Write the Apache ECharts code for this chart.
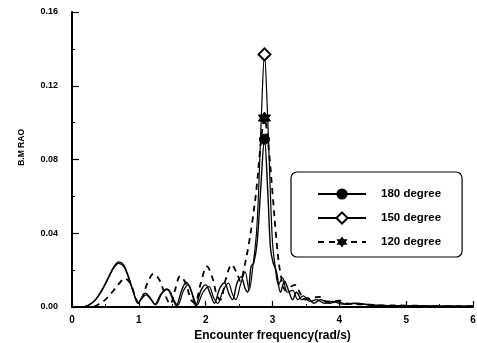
<!DOCTYPE html>
<html>
<head>
<meta charset="utf-8">
<script src="https://cdn.jsdelivr.net/npm/echarts@6/dist/echarts.min.js"></script>
<style>
  html, body { margin: 0; padding: 0; background: #fff; }
  #chart { width: 477px; height: 343px; }
</style>
</head>
<body>
<div id="chart"></div>
<script>
// Bending moment RAO versus encounter frequency for three headings.
const freq180 = [0, 0.15, 0.25, 0.35, 0.45, 0.55, 0.63, 0.7, 0.77, 0.84, 0.92, 0.99, 1.04, 1.1, 1.17, 1.24, 1.33, 1.42, 1.5, 1.56, 1.64, 1.71, 1.79, 1.85, 1.93, 2.0, 2.07, 2.13, 2.21, 2.28, 2.35, 2.4, 2.47, 2.53, 2.59, 2.63, 2.68, 2.72, 2.77, 2.82, 2.88, 2.93, 2.97, 3.01, 3.06, 3.12, 3.18, 3.24, 3.3, 3.36, 3.44, 3.52, 3.62, 3.72, 3.85, 3.97, 4.1, 4.25, 4.5, 5.0, 5.5, 6.0];
const rao180 = [0, 0, 0.001, 0.004, 0.0095, 0.0165, 0.022, 0.0245, 0.023, 0.017, 0.008, 0.002, 0.005, 0.0075, 0.005, 0.0015, 0.007, 0.0098, 0.005, 0.0008, 0.009, 0.0135, 0.008, 0.0008, 0.009, 0.012, 0.007, 0.002, 0.010, 0.013, 0.007, 0.004, 0.013, 0.0165, 0.010, 0.008, 0.022, 0.024, 0.035, 0.062, 0.091, 0.062, 0.032, 0.024, 0.019, 0.008, 0.014, 0.009, 0.004, 0.008, 0.004, 0.005, 0.002, 0.004, 0.002, 0.003, 0.0015, 0.002, 0.001, 0.0007, 0.0005, 0.0004];

const freq150 = [0, 0.15, 0.25, 0.35, 0.45, 0.55, 0.63, 0.7, 0.77, 0.84, 0.92, 0.99, 1.05, 1.11, 1.18, 1.25, 1.35, 1.44, 1.52, 1.58, 1.67, 1.74, 1.81, 1.87, 1.96, 2.05, 2.12, 2.18, 2.26, 2.34, 2.4, 2.45, 2.52, 2.59, 2.65, 2.7, 2.76, 2.8, 2.84, 2.88, 2.92, 2.96, 3.0, 3.04, 3.09, 3.15, 3.22, 3.3, 3.38, 3.46, 3.56, 3.66, 3.78, 3.9, 4.05, 4.2, 4.5, 5.0, 5.5, 6.0];
const rao150 = [0, 0, 0.001, 0.0038, 0.009, 0.016, 0.0215, 0.0237, 0.0222, 0.0165, 0.0078, 0.002, 0.0048, 0.0066, 0.004, 0.0012, 0.0075, 0.0095, 0.004, 0.001, 0.009, 0.012, 0.006, 0.001, 0.008, 0.011, 0.005, 0.002, 0.009, 0.013, 0.007, 0.004, 0.012, 0.019, 0.009, 0.020, 0.040, 0.070, 0.110, 0.137, 0.110, 0.070, 0.035, 0.022, 0.012, 0.016, 0.008, 0.009, 0.004, 0.006, 0.003, 0.004, 0.002, 0.003, 0.0015, 0.002, 0.001, 0.0007, 0.0005, 0.0004];

const freq120 = [0, 0.3, 0.4, 0.5, 0.6, 0.7, 0.79, 0.87, 0.94, 1.0, 1.06, 1.13, 1.22, 1.31, 1.4, 1.47, 1.54, 1.62, 1.7, 1.78, 1.84, 1.92, 2.02, 2.1, 2.17, 2.22, 2.3, 2.39, 2.47, 2.52, 2.58, 2.64, 2.7, 2.76, 2.82, 2.88, 2.94, 3.0, 3.06, 3.12, 3.2, 3.27, 3.34, 3.42, 3.5, 3.6, 3.7, 3.8, 3.9, 4.0, 4.1, 4.3, 4.6, 5.0, 5.5, 6.0];
const rao120 = [0, 0, 0.0015, 0.004, 0.008, 0.0125, 0.0155, 0.013, 0.0065, 0.002, 0.006, 0.013, 0.018, 0.0145, 0.006, 0.0015, 0.009, 0.0168, 0.013, 0.004, 0.002, 0.012, 0.022, 0.016, 0.006, 0.004, 0.015, 0.023, 0.018, 0.014, 0.022, 0.033, 0.047, 0.064, 0.087, 0.1025, 0.087, 0.062, 0.036, 0.018, 0.009, 0.011, 0.012, 0.007, 0.004, 0.005, 0.0055, 0.003, 0.003, 0.0035, 0.002, 0.0015, 0.001, 0.0008, 0.0005, 0.0004];

const seriesNames = ['180 degree', '150 degree', '120 degree'];
const xTicks = [0, 1, 2, 3, 4, 5, 6];
const yTicks = [0, 0.04, 0.08, 0.12, 0.16];

// six-pointed star used as the 120 degree marker
const starPath = 'path://M0,-10L2.9,-5L8.66,-5L5.8,0L8.66,5L2.9,5L0,10L-2.9,5L-8.66,5L-5.8,0L-8.66,-5L-2.9,-5Z';

// Only the resonance peak of each curve carries a marker.
function buildData(freqs, vals) {
  let peak = 0;
  vals.forEach((v, i) => { if (v > vals[peak]) peak = i; });
  return freqs.map((f, i) => i === peak
    ? { value: [f, vals[i]] }
    : { value: [f, vals[i]], symbol: 'none' });
}

const chart = echarts.init(document.getElementById('chart'), null, { renderer: 'canvas' });

const fontFamily = '"Liberation Sans", Arial, sans-serif';
const axisFont = { fontFamily: fontFamily, fontWeight: 'bold', color: '#000' };

chart.setOption({
  animation: false,
  backgroundColor: '#fff',
  grid: { left: 72, right: 4, top: 12, bottom: 36, containLabel: false, outerBoundsMode: 'none' },
  xAxis: {
    type: 'value',
    min: xTicks[0], max: xTicks[xTicks.length - 1], interval: 1,
    name: 'Encounter frequency(rad/s)',
    nameLocation: 'middle', nameGap: 18,
    nameTextStyle: Object.assign({ fontSize: 12 }, axisFont),
    axisLine: { lineStyle: { color: '#000', width: 2 } },
    axisTick: { inside: true, length: 6, lineStyle: { color: '#000', width: 1.2 } },
    minorTick: { show: true, splitNumber: 2, length: 3, lineStyle: { color: '#000' } },
    splitLine: { show: false },
    axisLabel: Object.assign({ fontSize: 10, margin: 8 }, axisFont)
  },
  yAxis: {
    type: 'value',
    min: yTicks[0], max: yTicks[yTicks.length - 1], interval: 0.04,
    axisLine: { show: true, lineStyle: { color: '#000', width: 2 } },
    axisTick: { show: true, inside: true, length: 7, lineStyle: { color: '#000', width: 1.2 } },
    minorTick: { show: true, splitNumber: 2, length: 3, lineStyle: { color: '#000' } },
    splitLine: { show: false },
    axisLabel: Object.assign({ fontSize: 9, margin: 14, formatter: v => v.toFixed(2) }, axisFont)
  },
  graphic: [{
    type: 'text',
    left: 17, top: 129,
    rotation: Math.PI / 2,
    style: { text: 'B.M RAO', fontSize: 8.5, fontWeight: 'bold', fontFamily: fontFamily, fill: '#000' }
  }],
  legend: {
    orient: 'vertical',
    left: 291, top: 172,
    padding: [15, 21, 8, 26],
    itemWidth: 48, itemHeight: 14, itemGap: 10,
    borderColor: '#000', borderWidth: 1.2, borderRadius: 6,
    backgroundColor: '#fff',
    data: seriesNames,
    textStyle: Object.assign({ fontSize: 11.5, padding: [0, 0, 0, 10], lineHeight: 14 }, axisFont)
  },
  series: [
    {
      name: seriesNames[0], type: 'line', smooth: 0.35,
      data: buildData(freq180, rao180),
      symbol: 'circle', symbolSize: 10, showAllSymbol: true,
      lineStyle: { color: '#000', width: 1.4 },
      itemStyle: { color: '#000', borderColor: '#000' },
      z: 3
    },
    {
      name: seriesNames[1], type: 'line', smooth: 0.35,
      data: buildData(freq150, rao150),
      symbol: 'diamond', symbolSize: 12, showAllSymbol: true,
      lineStyle: { color: '#000', width: 1.2 },
      itemStyle: { color: '#fff', borderColor: '#000', borderWidth: 2 },
      z: 2
    },
    {
      name: seriesNames[2], type: 'line', smooth: 0.35,
      data: buildData(freq120, rao120),
      symbol: starPath, symbolSize: 12, showAllSymbol: true,
      lineStyle: { color: '#000', width: 1.8, type: [6, 5] },
      itemStyle: { color: '#000', borderColor: '#000' },
      z: 4
    }
  ]
});
</script>
</body>
</html>
